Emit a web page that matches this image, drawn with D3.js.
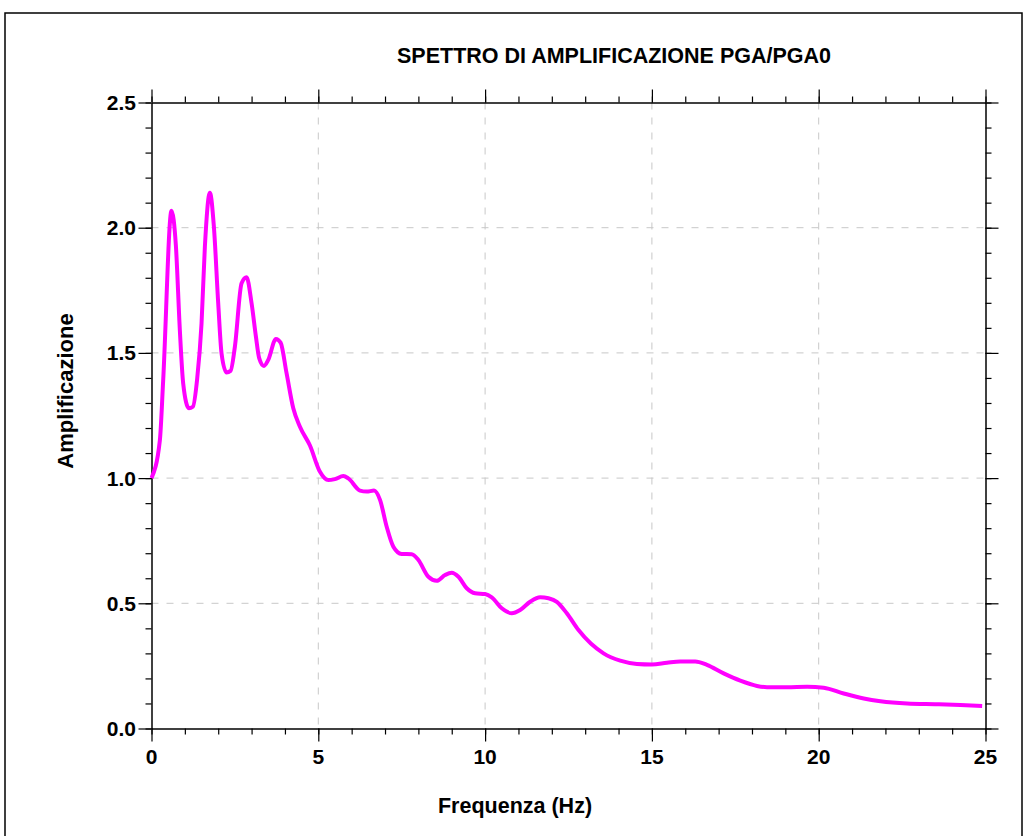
<!DOCTYPE html>
<html>
<head>
<meta charset="utf-8">
<script src="https://cdn.jsdelivr.net/npm/d3@7"></script>
<style>
  body { margin: 0; background: #fff; }
  svg text { font-family: 'Liberation Sans', Arial, sans-serif; font-weight: bold; }
</style>
</head>
<body>
<svg id="chart" width="1026" height="836"></svg>
<script>
// frequenze (Hz) e amplificazione
var freq = [0, 0.25, 0.35, 0.6, 0.73, 0.85, 0.95, 1.12, 1.24, 1.37, 1.5, 1.6, 1.75, 1.87, 2.0, 2.1, 2.25, 2.37, 2.5, 2.7, 2.85, 3.0, 3.13, 3.23, 3.37, 3.5, 3.73, 3.87, 4.05, 4.25, 4.45, 4.75, 5.05, 5.3, 5.5, 5.75, 5.9, 6.25, 6.45, 6.67, 6.85, 7.05, 7.25, 7.5, 7.8, 8.0, 8.3, 8.55, 8.8, 9.0, 9.2, 9.45, 9.7, 10.0, 10.2, 10.5, 10.8, 11.05, 11.35, 11.65, 11.9, 12.15, 12.45, 12.8, 13.55, 14.05, 14.55, 15.0, 15.45, 15.85, 16.3, 16.65, 17.15, 17.65, 18.15, 18.45, 19.05, 19.65, 20.15, 20.75, 21.35, 21.85, 22.65, 23.55, 24.25, 24.9];
var ampl = [1.0, 1.15, 1.39, 2.068, 1.93, 1.59, 1.378, 1.279, 1.285, 1.398, 1.618, 1.924, 2.14, 2.004, 1.698, 1.498, 1.422, 1.428, 1.525, 1.778, 1.802, 1.698, 1.565, 1.478, 1.448, 1.472, 1.556, 1.541, 1.418, 1.279, 1.205, 1.13, 1.025, 0.992, 0.996, 1.008, 0.999, 0.95, 0.946, 0.95, 0.913, 0.806, 0.726, 0.697, 0.696, 0.673, 0.606, 0.59, 0.613, 0.622, 0.606, 0.56, 0.54, 0.537, 0.524, 0.48, 0.46, 0.473, 0.506, 0.524, 0.52, 0.506, 0.46, 0.393, 0.3, 0.271, 0.258, 0.256, 0.263, 0.268, 0.268, 0.254, 0.22, 0.191, 0.17, 0.165, 0.165, 0.167, 0.163, 0.14, 0.12, 0.109, 0.1, 0.097, 0.094, 0.09];
var xTicks = [0, 5, 10, 15, 20, 25];
var yTicks = [0, 0.5, 1.0, 1.5, 2.0, 2.5];

var titolo = 'SPETTRO DI AMPLIFICAZIONE PGA/PGA0';
var xLabel = 'Frequenza (Hz)';
var yLabel = 'Amplificazione';

var pLeft = 151.5, pRight = 985.5, pTop = 102.5, pBottom = 728.5;

draw();

function draw () {
  var svg = d3.select('#chart');

  var x = d3.scaleLinear().domain([0, 25]).range([pLeft, pRight]);
  var y = d3.scaleLinear().domain([0, 2.5]).range([pBottom, pTop]);

  // cornice esterna
  svg.append('rect')
    .attr('x', 5).attr('y', 13)
    .attr('width', 1017).attr('height', 840)
    .attr('fill', 'none')
    .attr('stroke', '#000')
    .attr('stroke-width', 1.5);

  // griglia
  var grid = svg.append('g');
  grid.selectAll('.gx')
    .data(xTicks.slice(1, -1))
    .enter().append('line')
    .attr('x1', function(d) { return x(d); })
    .attr('x2', function(d) { return x(d); })
    .attr('y1', pTop).attr('y2', pBottom)
    .attr('stroke', '#c8c8c8')
    .attr('stroke-dasharray', '7,8');
  grid.selectAll('.gy')
    .data(yTicks.slice(1, -1))
    .enter().append('line')
    .attr('y1', function(d) { return y(d); })
    .attr('y2', function(d) { return y(d); })
    .attr('x1', pLeft).attr('x2', pRight)
    .attr('stroke', '#c8c8c8')
    .attr('stroke-dasharray', '7,8');

  // assi con tacche minori
  var xMinor = d3.range(0, 26, 1);
  var yMinor = d3.range(0, 26, 1).map(function(d) { return d / 10; });

  var axes = [
    [d3.axisBottom(x).tickValues(xMinor), 'translate(0,' + pBottom + ')'],
    [d3.axisTop(x).tickValues(xMinor), 'translate(0,' + pTop + ')'],
    [d3.axisLeft(y).tickValues(yMinor), 'translate(' + pLeft + ',0)'],
    [d3.axisRight(y).tickValues(yMinor), 'translate(' + pRight + ',0)']
  ];
  for (var i = 0; i < axes.length; ++i) {
    var g = svg.append('g')
      .attr('transform', axes[i][1])
      .call(axes[i][0].tickSize(6).tickSizeOuter(0).tickFormat(''));
    g.select('.domain').attr('stroke', '#000').attr('stroke-width', 1.5);
    g.selectAll('.tick line').attr('stroke', '#000').attr('stroke-width', 1.2);
  }

  // tacche maggiori più lunghe
  var major = [
    [d3.axisBottom(x).tickValues(xTicks), 'translate(0,' + pBottom + ')'],
    [d3.axisTop(x).tickValues(xTicks), 'translate(0,' + pTop + ')'],
    [d3.axisLeft(y).tickValues(yTicks), 'translate(' + pLeft + ',0)'],
    [d3.axisRight(y).tickValues(yTicks), 'translate(' + pRight + ',0)']
  ];
  for (var j = 0; j < major.length; ++j) {
    var m = svg.append('g')
      .attr('transform', major[j][1])
      .call(major[j][0].tickSize(13).tickFormat(''));
    m.select('.domain').remove();
    m.selectAll('.tick line').attr('stroke', '#000').attr('stroke-width', 1.2);
  }

  // etichette
  svg.selectAll('.xl')
    .data(xTicks)
    .enter().append('text')
    .attr('x', function(d) { return x(d); })
    .attr('y', 764)
    .attr('text-anchor', 'middle')
    .attr('font-size', '21px')
    .text(function(d) { return d; });

  svg.selectAll('.yl')
    .data(yTicks)
    .enter().append('text')
    .attr('x', 136)
    .attr('y', function(d) { return y(d) + 7.5; })
    .attr('text-anchor', 'end')
    .attr('font-size', '21px')
    .text(function(d) { return d3.format('.1f')(d); });

  // curva
  var line = d3.line()
    .x(function(d, i) { return x(freq[i]); })
    .y(function(d) { return y(d); })
    .curve(d3.curveMonotoneX);

  svg.append('path')
    .datum(ampl)
    .attr('d', line)
    .attr('fill', 'none')
    .attr('stroke', '#ff00ff')
    .attr('stroke-width', 4)
    .attr('stroke-linejoin', 'round');

  svg.append('text')
    .attr('x', 614).attr('y', 63)
    .attr('text-anchor', 'middle')
    .attr('font-size', '21.5px')
    .text(titolo);

  svg.append('text')
    .attr('x', 515).attr('y', 813)
    .attr('text-anchor', 'middle')
    .attr('font-size', '21.5px')
    .text(xLabel);

  svg.append('text')
    .attr('transform', 'translate(73,391) rotate(-90)')
    .attr('text-anchor', 'middle')
    .attr('font-size', '22px')
    .text(yLabel);
}
</script>
</body>
</html>
